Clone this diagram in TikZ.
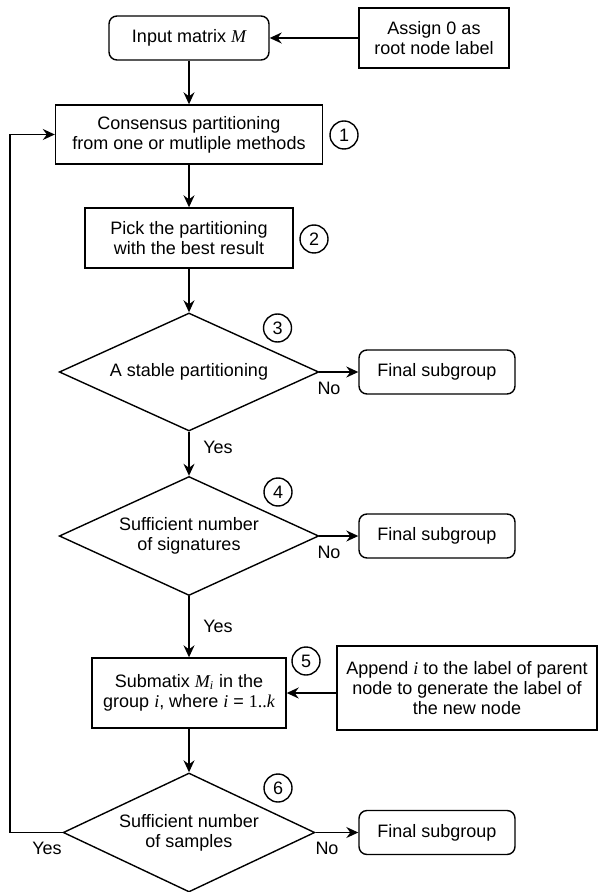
\documentclass[tikz,border=0pt]{standalone}
\usepackage{fontspec}
\setmainfont{Liberation Sans}
\newfontfamily\serifvar{Liberation Serif}
\newcommand\vvar[1]{{\serifvar\itshape #1}}
\usetikzlibrary{shapes.geometric,arrows.meta}
\begin{document}
\begin{tikzpicture}[x=0.5pt,y=-0.5pt,
  font=\fontsize{9}{10}\selectfont,
  base/.style={draw, line width=0.7pt, align=center, inner sep=0pt},
  boxnode/.style={base, rectangle},
  rbox/.style={base, rectangle, rounded corners=4pt},
  dec/.style={base, diamond, aspect=2.2},
  num/.style={draw, circle, line width=0.7pt, minimum size=14pt, inner sep=0pt},
  arr/.style={line width=0.7pt, -{Stealth[length=6pt,width=5.5pt,inset=2pt]}},
  lbl/.style={inner sep=0pt}
]
\useasboundingbox (0,0) rectangle (600,892);

\node[rbox, minimum width=80pt, minimum height=22pt] (inp) at (189,38) {Input matrix \vvar{M}};
\node[boxnode, minimum width=75pt, minimum height=30pt] (assign) at (434,38) {Assign 0 as\\root node label};
\node[boxnode, minimum width=133.5pt, minimum height=29.5pt] (cons) at (189,134.5) {Consensus partitioning\\from one or mutliple methods};
\node[num] (c1) at (344,135) {1};
\node[boxnode, minimum width=104pt, minimum height=30pt] (pick) at (189,238) {Pick the partitioning\\with the best result};
\node[num] (c2) at (314,239) {2};
\node[dec, minimum width=129.75pt, minimum height=59pt] (d3) at (189,372) {A stable partitioning};
\node[num] (c3) at (277.5,328) {3};
\node[rbox, minimum width=78pt, minimum height=22pt] (f1) at (437,372) {Final subgroup};
\node[lbl] (no1) at (329,388) {No};
\node[lbl] (yes1) at (218,447) {Yes};
\node[dec, minimum width=129.75pt, minimum height=59.5pt] (d4) at (189,536) {Sufficient number\\of signatures};
\node[num] (c4) at (278,492) {4};
\node[rbox, minimum width=78pt, minimum height=22pt] (f2) at (437,536) {Final subgroup};
\node[lbl] (no2) at (329,552) {No};
\node[lbl] (yes2) at (218,626) {Yes};
\node[boxnode, minimum width=97pt, minimum height=35pt] (sub) at (189,693) {Submatix \vvar{M\textsubscript{i}} in the\\group \vvar{i}, where \vvar{i} = {\serifvar 1..\itshape k}};
\node[num] (c5) at (306,661) {5};
\node[boxnode, minimum width=130pt, minimum height=42pt] (app) at (467,688) {Append \vvar{i} to the label of parent\\node to generate the label of\\the new node};
\node[dec, minimum width=125.8pt, minimum height=59.5pt] (d6) at (189,832.5) {Sufficient number\\of samples};
\node[num] (c6) at (278,788) {6};
\node[rbox, minimum width=78pt, minimum height=22pt] (f3) at (437,832.5) {Final subgroup};
\node[lbl] (yes3) at (47,848) {Yes};
\node[lbl] (no3) at (327,848) {No};
\coordinate (lpx) at (10,0);

\draw[arr] (assign.west) -- (inp.east);
\draw[arr] (inp) -- (cons);
\draw[arr] (cons) -- (pick);
\draw[arr] (pick) -- (d3);
\draw[arr] (d3.east) -- (f1.west);
\draw[arr] (d3) -- (d4);
\draw[arr] (d4.east) -- (f2.west);
\draw[arr] (d4) -- (sub);
\draw[arr] (app.west |- sub.east) -- (sub.east);
\draw[arr] (sub) -- (d6);
\draw[arr] (d6.east) -- (f3.west);
\draw[arr] (d6.west) -- (d6.west -| lpx) |- (cons.west);
\end{tikzpicture}
\end{document}
